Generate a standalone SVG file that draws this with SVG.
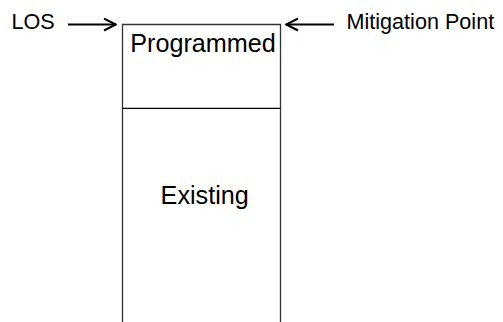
<svg xmlns="http://www.w3.org/2000/svg" width="503" height="322" viewBox="0 0 503 322">
<defs>
<style>
text{font-family:"Liberation Sans",Arial,sans-serif;fill:#000}
.lbl{font-size:21.6px}
.big{font-size:25.2px}
.box{fill:none;stroke:#333;stroke-width:1.3}
.div{stroke:#000;stroke-width:1.2}
.arr{stroke:#000;stroke-width:2;fill:none}
</style>
<marker id="ah" viewBox="0 0 14 14" refX="13" refY="7" markerWidth="14" markerHeight="14" markerUnits="userSpaceOnUse" orient="auto">
<path d="M1,1 L13,7 L1,13" fill="none" stroke="#000" stroke-width="2"/>
</marker>
</defs>
<rect width="503" height="322" fill="#fff"/>
<g id="column">
<path class="box" d="M122.5,323 V24.5 H280.5 V323"/>
<line class="div" x1="122.5" y1="108.3" x2="280.5" y2="108.3"/>
</g>
<g id="programmed">
<text class="big" x="203" y="52" text-anchor="middle">Programmed</text>
</g>
<g id="existing">
<text class="big" x="204.7" y="204" text-anchor="middle">Existing</text>
</g>
<g id="los">
<text class="lbl" x="11.5" y="28.5">LOS</text>
</g>
<g id="mitigation">
<text class="lbl" x="346.5" y="28.5">Mitigation Point</text>
</g>
<g id="connectors">
<line class="arr" x1="68" y1="24.5" x2="116" y2="24.5" marker-end="url(#ah)"/>
<line class="arr" x1="334" y1="24.5" x2="286" y2="24.5" marker-end="url(#ah)"/>
</g>
</svg>
